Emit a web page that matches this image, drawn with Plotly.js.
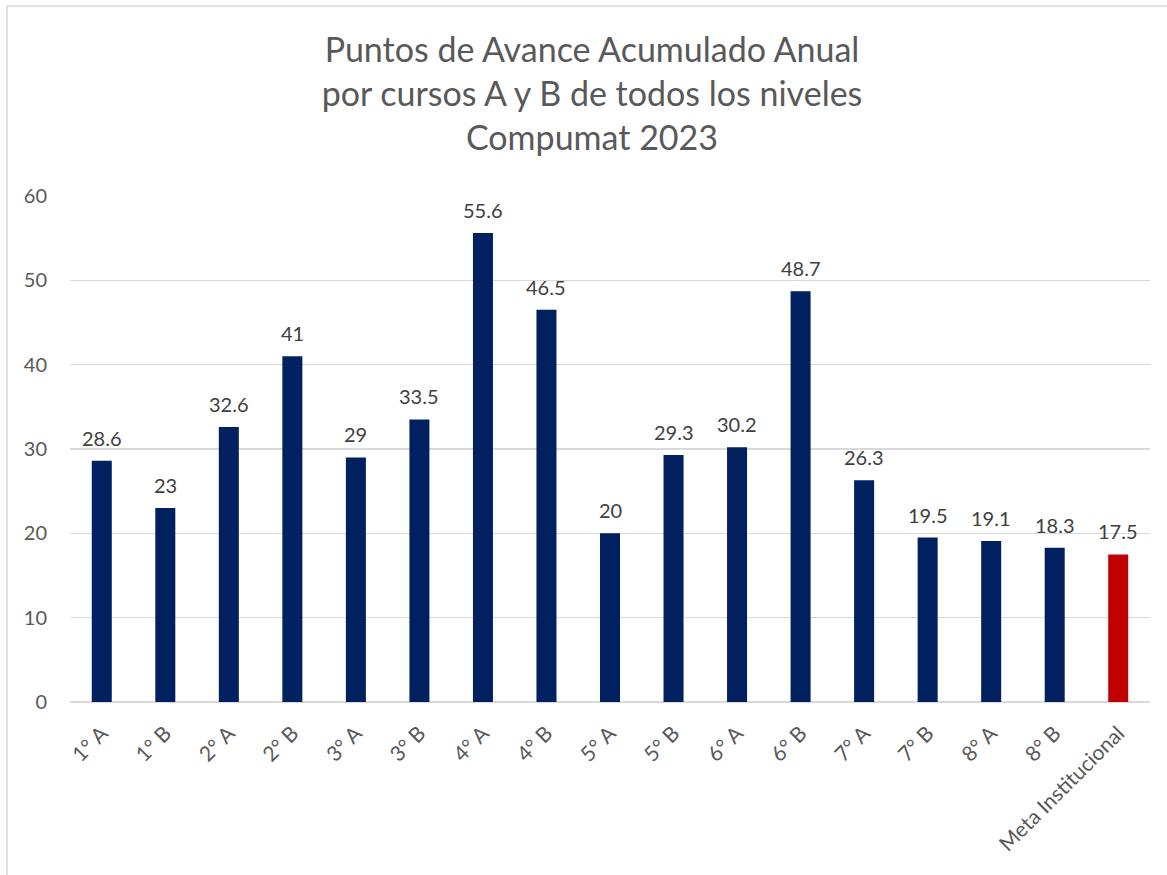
<!DOCTYPE html>
<html>
<head>
<meta charset="utf-8">
<script src="https://cdn.plot.ly/plotly-3.0.1.min.js"></script>
<style>
  html, body { margin: 0; padding: 0; background: #fff; }
  #chart { width: 1167px; height: 875px; }
</style>
</head>
<body>
<div id="chart"></div>
<script>
// --- Data ---
const cursos = ['1° A', '1° B', '2° A', '2° B', '3° A', '3° B', '4° A', '4° B',
                '5° A', '5° B', '6° A', '6° B', '7° A', '7° B', '8° A', '8° B',
                'Meta Institucional'];
const puntos = [28.6, 23, 32.6, 41, 29, 33.5, 55.6, 46.5,
                20, 29.3, 30.2, 48.7, 26.3, 19.5, 19.1, 18.3, 17.5];
const yTicks = [0, 10, 20, 30, 40, 50, 60];

// --- Colours ---
const navy = '#002060';
const red = '#C00000';
const barColors = cursos.map(c => c === 'Meta Institucional' ? red : navy);

const W = 1167, H = 875;
const margin = { l: 70, r: 17, t: 196, b: 173 };
const plotW = W - margin.l - margin.r;
const plotH = H - margin.t - margin.b;
const font = 'Lato, Calibri, "Open Sans", sans-serif';

const trace = {
    type: 'bar',
    x: cursos,
    y: puntos,
    marker: { color: barColors, line: { width: 0 } },
    hoverinfo: 'x+y'
};

// value labels above each bar
const labels = cursos.map((c, i) => ({
    x: c,
    y: puntos[i],
    text: String(puntos[i]),
    showarrow: false,
    yanchor: 'bottom',
    yshift: 9,
    font: { family: font, size: 20, color: '#404040' }
}));

const layout = {
    width: W,
    height: H,
    margin: margin,
    paper_bgcolor: '#fff',
    plot_bgcolor: '#fff',
    showlegend: false,
    bargap: 0.685,
    font: { family: font, color: '#595959' },
    title: {
        text: 'Puntos de Avance Acumulado Anual<br>por cursos A y B de todos los niveles<br>Compumat 2023',
        font: { family: font, size: 34, color: '#595959' },
        xref: 'container', x: 592 / W, xanchor: 'center',
        yref: 'container', y: 1 - 62 / H, yanchor: 'top'
    },
    xaxis: {
        type: 'category',
        tickangle: -45,
        tickfont: { family: font, size: 21, color: '#595959' },
        showgrid: false,
        showline: false,
        ticks: '',
        ticklabelstandoff: 14,
        automargin: false
    },
    yaxis: {
        range: [0, 60],
        tickvals: yTicks,
        tickfont: { family: font, size: 20, color: '#595959' },
        showgrid: true,
        gridcolor: '#d9d9d9',
        gridwidth: 1.5,
        zeroline: true,
        zerolinecolor: '#d9d9d9',
        zerolinewidth: 1.5,
        showline: false,
        ticks: '',
        ticklabelstandoff: 22,
        automargin: false
    },
    annotations: labels,
    shapes: [{
        type: 'rect',
        xref: 'paper', yref: 'paper',
        x0: (7 - margin.l) / plotW,
        x1: (W + 20 - margin.l) / plotW,
        y0: -(H + 20 - margin.t - plotH) / plotH,
        y1: (margin.t + plotH - 6) / plotH,
        line: { color: '#d9d9d9', width: 1.5 },
        fillcolor: 'rgba(0,0,0,0)',
        layer: 'below'
    }]
};

Plotly.newPlot('chart', [trace], layout, { displayModeBar: false, staticPlot: true });
</script>
</body>
</html>
